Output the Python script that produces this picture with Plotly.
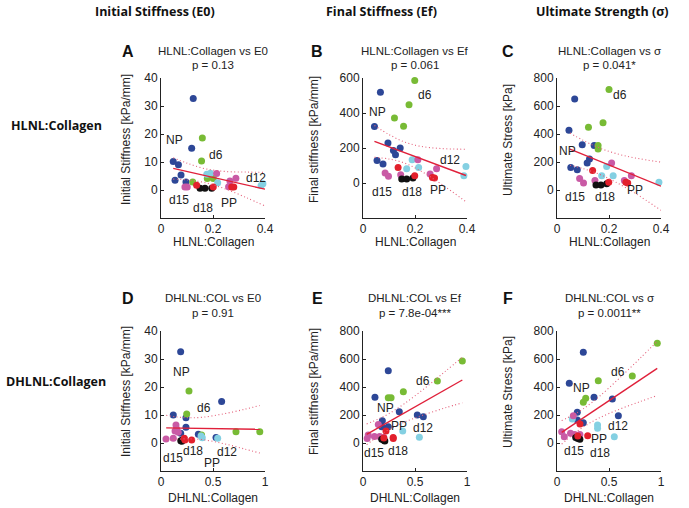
import plotly.graph_objects as go

# ---------------- data ----------------
GROUPS = ["NP", "d6", "d12", "d15", "d18", "PP"]
COLORS = {"NP": "#2d4797", "d6": "#78bb35", "d12": "#84d0e2",
          "d15": "#c95aa5", "d18": "#111111", "PP": "#e2202c"}

# Panel A: HLNL:Collagen vs E0
A_x = [0.124, 0.118, 0.047, 0.067, 0.077, 0.054, 0.096,
       0.159, 0.156, 0.122, 0.178, 0.201,
       0.176, 0.190, 0.218, 0.392, 0.385,
       0.092, 0.101, 0.214, 0.265, 0.288, 0.260,
       0.150, 0.169, 0.195,
       0.137, 0.201, 0.272, 0.280]
A_y = [32.7, 14.9, 10.2, 9.0, 5.4, 3.5, 2.9,
       18.6, 10.4, 2.9, 4.1, 4.1,
       5.6, 6.0, 2.6, 2.2, 1.6,
       1.1, 1.1, 5.9, 3.2, 4.2, 1.2,
       0.6, 0.6, 0.6,
       1.7, 1.1, 1.1, 1.1]
A_g = ["NP"] * 7 + ["d6"] * 5 + ["d12"] * 5 + ["d15"] * 6 + ["d18"] * 3 + ["PP"] * 4

# Panel B: HLNL:Collagen vs Ef
B_x = [0.067, 0.044, 0.096, 0.117, 0.125, 0.143, 0.054, 0.077,
       0.199, 0.177, 0.121, 0.156,
       0.189, 0.168, 0.214, 0.396, 0.388,
       0.211, 0.283, 0.085, 0.098, 0.145, 0.258,
       0.149, 0.168, 0.192,
       0.135, 0.199, 0.267, 0.275]
B_y = [518, 323, 229, 186, 162, 200, 129, 108,
       586, 447, 371, 324,
       133, 82, 89, 95, 42,
       133, 82, 57, 38, 47, 51,
       23, 23, 28,
       89, 42, 32, 28]
B_g = ["NP"] * 8 + ["d6"] * 4 + ["d12"] * 5 + ["d15"] * 6 + ["d18"] * 3 + ["PP"] * 4

# Panel C: HLNL:Collagen vs sigma
C_x = [0.068, 0.046, 0.097, 0.143, 0.125, 0.116, 0.053, 0.078,
       0.200, 0.177, 0.121, 0.158, 0.158,
       0.191, 0.172, 0.216, 0.401, 0.392,
       0.210, 0.286, 0.087, 0.102, 0.146, 0.259,
       0.150, 0.169, 0.191,
       0.137, 0.199, 0.265, 0.272]
C_y = [650, 427, 324, 317, 221, 192, 161, 144,
       718, 481, 449, 317, 293,
       168, 101, 101, 127, 55,
       192, 101, 82, 50, 67, 67,
       35, 35, 45,
       139, 55, 55, 50]
C_g = ["NP"] * 8 + ["d6"] * 5 + ["d12"] * 5 + ["d15"] * 6 + ["d18"] * 3 + ["PP"] * 4

# Panel D: DHLNL:Collagen vs E0
D_x = [0.189, 0.583, 0.118, 0.240, 0.240, 0.189, 0.359, 0.529,
       0.269, 0.247, 0.721, 0.390, 0.950,
       0.385, 0.397, 0.545,
       0.048, 0.118, 0.144, 0.150, 0.135, 0.166,
       0.190, 0.205, 0.200,
       0.224, 0.295, 0.230]
D_y = [32.6, 14.8, 10.0, 9.0, 5.6, 3.5, 3.1, 2.0,
       18.6, 10.4, 4.0, 2.9, 4.0,
       2.5, 1.9, 1.7,
       1.4, 1.7, 6.4, 5.0, 4.3, 3.8,
       0.8, 1.0, 0.6,
       1.7, 1.1, 1.1]
D_g = ["NP"] * 8 + ["d6"] * 5 + ["d12"] * 3 + ["d15"] * 6 + ["d18"] * 3 + ["PP"] * 3

# Panel E: DHLNL:Collagen vs Ef
E_x = [0.243, 0.115, 0.349, 0.522, 0.580, 0.186, 0.243, 0.180,
       0.955, 0.715, 0.388, 0.243, 0.270,
       0.382, 0.542,
       0.147, 0.050, 0.040, 0.110, 0.160, 0.200,
       0.180, 0.210, 0.200,
       0.221, 0.291, 0.290, 0.200]
E_y = [516, 326, 224, 200, 188, 159, 116, 116,
       586, 443, 366, 324, 324,
       86, 41,
       133, 57, 33, 47, 47, 40,
       26, 14, 20,
       86, 33, 40, 36]
E_g = ["NP"] * 8 + ["d6"] * 5 + ["d12"] * 2 + ["d15"] * 6 + ["d18"] * 3 + ["PP"] * 4

# Panel F: DHLNL:Collagen vs sigma
F_x = [0.253, 0.118, 0.356, 0.532, 0.590, 0.195, 0.195, 0.253,
       0.964, 0.724, 0.397, 0.276, 0.253,
       0.147, 0.390, 0.390, 0.551,
       0.157, 0.045, 0.070, 0.130, 0.170, 0.220,
       0.180, 0.200, 0.220,
       0.221, 0.295, 0.200]
F_y = [648, 426, 326, 314, 195, 219, 164, 145,
       712, 478, 445, 319, 291,
       171, 128, 105, 45,
       195, 81, 45, 70, 60, 60,
       40, 33, 26,
       136, 52, 50]
F_g = ["NP"] * 8 + ["d6"] * 5 + ["d12"] * 4 + ["d15"] * 6 + ["d18"] * 3 + ["PP"] * 3

# regression lines (end points) and confidence bands
A_fit_x = [0.047, 0.40]; A_fit_y = [7.7, 0.3]
A_ci_x = [0.047, 0.10, 0.17, 0.25, 0.33, 0.40]
A_ci_hi = [11.5, 9.6, 7.6, 6.6, 6.4, 6.3]
A_ci_lo = [3.9, 3.6, 2.6, 0.3, -2.8, -5.7]

B_fit_x = [0.044, 0.396]; B_fit_y = [238, 43]
B_ci_x = [0.044, 0.10, 0.16, 0.22, 0.30, 0.396]
B_ci_hi = [329, 277, 234, 210, 197, 193]
B_ci_lo = [147, 137, 114, 70, -5, -107]

C_fit_x = [0.05, 0.40]; C_fit_y = [292, 27]
C_ci_x = [0.05, 0.10, 0.16, 0.22, 0.30, 0.40]
C_ci_hi = [407, 355, 303, 264, 229, 199]
C_ci_lo = [177, 153, 115, 62, -23, -145]

D_fit_x = [0.05, 0.95]; D_fit_y = [5.4, 4.9]
D_ci_x = [0.05, 0.15, 0.27, 0.40, 0.60, 0.80, 0.95]
D_ci_hi = [9.9, 9.3, 9.0, 9.2, 10.4, 12.0, 13.4]
D_ci_lo = [0.9, 1.3, 1.5, 1.2, -0.2, -2.1, -3.6]

E_fit_x = [0.035, 0.955]; E_fit_y = [62, 450]
E_ci_x = [0.035, 0.15, 0.25, 0.40, 0.60, 0.80, 0.955]
E_ci_hi = [136, 172, 210, 282, 395, 517, 613]
E_ci_lo = [-12, 50, 96, 150, 205, 253, 287]

F_fit_x = [0.045, 0.964]; F_fit_y = [76, 533]
F_ci_x = [0.045, 0.15, 0.25, 0.40, 0.60, 0.80, 0.964]
F_ci_hi = [160, 198, 243, 328, 463, 606, 727]
F_ci_lo = [-8, 58, 113, 177, 241, 296, 339]

# group text labels inside each panel: (label, x, y)
A_labels = [("NP", 0.05, 17.9), ("d6", 0.21, 12.5), ("d12", 0.365, 4.2),
            ("d15", 0.07, -3.4), ("d18", 0.163, -6.4), ("PP", 0.263, -4.6)]
B_labels = [("NP", 0.056, 403), ("d6", 0.237, 505), ("d12", 0.335, 133),
            ("d15", 0.074, -54), ("d18", 0.187, -54), ("PP", 0.29, -38)]
C_labels = [("NP", 0.04, 278), ("d6", 0.244, 680), ("d12", 0.455, 112),
            ("d15", 0.07, -48), ("d18", 0.185, -53), ("PP", 0.30, 2)]
D_labels = [("NP", 0.199, 25.5), ("d6", 0.413, 12.6), ("d12", 0.638, -3.1),
            ("d15", 0.118, -5.5), ("d18", 0.311, -2.7), ("PP", 0.487, -7.0)]
E_labels = [("NP", 0.221, 252), ("d6", 0.58, 445), ("d12", 0.574, 105),
            ("d15", 0.106, -69), ("d18", 0.34, -55), ("PP", 0.349, 124)]
F_labels = [("NP", 0.231, 390), ("d6", 0.583, 505), ("d12", 0.59, 124),
            ("d15", 0.163, -57), ("d18", 0.413, -74), ("PP", 0.404, 29)]

TITLES = {"A": ("HLNL:Collagen vs E0", "p = 0.13"),
          "B": ("HLNL:Collagen vs Ef", "p = 0.061"),
          "C": ("HLNL:Collagen vs σ", "p = 0.041*"),
          "D": ("DHLNL:COL vs E0", "p = 0.91"),
          "E": ("DHLNL:COL vs Ef", "p = 7.8e-04***"),
          "F": ("DHLNL:COL vs σ", "p = 0.0011**")}
Y_TITLES = {"A": "Initial Stiffness [kPa/mm]", "B": "Final stiffness [kPa/mm]",
            "C": "Ultimate Stress [kPa]", "D": "Initial Stiffness [kPa/mm]",
            "E": "Final stiffness [kPa/mm]", "F": "Ultimate Stress [kPa]"}
X_TITLES = {"A": "HLNL:Collagen", "B": "HLNL:Collagen", "C": "HLNL:Collagen",
            "D": "DHLNL:Collagen", "E": "DHLNL:Collagen", "F": "DHLNL:Collagen"}
Y_RANGES = {"A": [-10, 40], "B": [-200, 600], "C": [-200, 800],
            "D": [-10, 40], "E": [-200, 800], "F": [-200, 800]}
Y_TICKS = {"A": [0, 10, 20, 30, 40], "B": [0, 200, 400, 600],
           "C": [0, 200, 400, 600, 800], "D": [0, 10, 20, 30, 40],
           "E": [0, 200, 400, 600, 800], "F": [0, 200, 400, 600, 800]}
X_RANGES = {"A": [0, 0.4], "B": [0, 0.4], "C": [0, 0.4],
            "D": [0, 1], "E": [0, 1], "F": [0, 1]}
X_TICKS = {"A": [0, 0.2, 0.4], "B": [0, 0.2, 0.4], "C": [0, 0.2, 0.4],
           "D": [0, 0.5, 1], "E": [0, 0.5, 1], "F": [0, 0.5, 1]}
COL_HEADERS = ["Initial Stiffness (E0)", "Final Stiffness (Ef)", "Ultimate Strength (σ)"]
ROW_HEADERS = ["HLNL:Collagen", "DHLNL:Collagen"]

DATA = {"A": (A_x, A_y, A_g, A_fit_x, A_fit_y, A_ci_x, A_ci_hi, A_ci_lo, A_labels),
        "B": (B_x, B_y, B_g, B_fit_x, B_fit_y, B_ci_x, B_ci_hi, B_ci_lo, B_labels),
        "C": (C_x, C_y, C_g, C_fit_x, C_fit_y, C_ci_x, C_ci_hi, C_ci_lo, C_labels),
        "D": (D_x, D_y, D_g, D_fit_x, D_fit_y, D_ci_x, D_ci_hi, D_ci_lo, D_labels),
        "E": (E_x, E_y, E_g, E_fit_x, E_fit_y, E_ci_x, E_ci_hi, E_ci_lo, E_labels),
        "F": (F_x, F_y, F_g, F_fit_x, F_fit_y, F_ci_x, F_ci_hi, F_ci_lo, F_labels)}

# ---------------- layout geometry (page pixels) ----------------
W, H = 689, 508
COL_X = [161, 363, 557]       # left edge of each plot area
PW = 104                      # plot width
ROW_Y = [78, 331]             # top of each plot area
PH = 140                      # plot height
YT_X = [126, 314, 508]        # centre x of the rotated y titles
YT_Y = [140, 392]             # centre y of the rotated y titles
XT_Y = [242, 498]             # centre y of the x titles


def px_x(X):
    return X / W


def px_y(Y):
    return 1 - Y / H


FONT = "Liberation Sans, Arial, Helvetica, sans-serif"
BOLD_FONT = "Open Sans, Lato, sans-serif"
TXT = "#222222"

fig = go.Figure()
layout = dict(width=W, height=H, margin=dict(l=0, r=0, t=0, b=0, autoexpand=False),
              paper_bgcolor="white", plot_bgcolor="white", showlegend=False,
              font=dict(family=FONT, size=12, color=TXT))
annotations = []


def paper_text(text, X, Y, size, family=FONT, angle=0, color=TXT, anchor="center"):
    annotations.append(dict(text=text, x=px_x(X), y=px_y(Y), xref="paper", yref="paper",
                            showarrow=False, xanchor=anchor, yanchor="middle",
                            textangle=angle, font=dict(size=size, family=family, color=color)))


for i, key in enumerate("ABCDEF"):
    r, c = divmod(i, 3)
    n = i + 1
    xa = "x" if n == 1 else f"x{n}"
    ya = "y" if n == 1 else f"y{n}"
    xkey = "xaxis" if n == 1 else f"xaxis{n}"
    ykey = "yaxis" if n == 1 else f"yaxis{n}"
    x0 = COL_X[c]; y0 = ROW_Y[r]
    layout[xkey] = dict(domain=[px_x(x0), px_x(x0 + PW)], anchor=ya,
                        range=X_RANGES[key], tickvals=X_TICKS[key],
                        ticktext=[("%g" % v) for v in X_TICKS[key]],
                        showline=True, linecolor=TXT, linewidth=1,
                        ticks="inside", ticklen=3, tickcolor=TXT,
                        showgrid=False, zeroline=False, mirror=False, automargin=False,
                        tickfont=dict(size=12, family=FONT, color=TXT))
    layout[ykey] = dict(domain=[px_y(y0 + PH), px_y(y0)], anchor=xa,
                        range=Y_RANGES[key], tickvals=Y_TICKS[key],
                        showline=True, linecolor=TXT, linewidth=1,
                        ticks="inside", ticklen=3, tickcolor=TXT,
                        showgrid=False, zeroline=False, mirror=False, automargin=False,
                        tickfont=dict(size=12, family=FONT, color=TXT))

    xs, ys, gs, fx, fy, cx, chi, clo, labels = DATA[key]
    for g in GROUPS:
        px = [x for x, gg in zip(xs, gs) if gg == g]
        py = [y for y, gg in zip(ys, gs) if gg == g]
        fig.add_trace(go.Scatter(x=px, y=py, mode="markers", xaxis=xa, yaxis=ya,
                                 marker=dict(size=7, color=COLORS[g], line=dict(width=0)),
                                 cliponaxis=False, hoverinfo="skip"))
    for band in (chi, clo):
        fig.add_trace(go.Scatter(x=cx, y=band, mode="lines", xaxis=xa, yaxis=ya,
                                 line=dict(color="#e4607a", width=1.1, dash="1px,2.5px",
                                           shape="spline"),
                                 hoverinfo="skip"))
    fig.add_trace(go.Scatter(x=fx, y=fy, mode="lines", xaxis=xa, yaxis=ya,
                             line=dict(color="#e0203a", width=1.4), hoverinfo="skip"))

    for (t, lx, ly) in labels:
        annotations.append(dict(text=t, x=lx, y=ly, xref=xa, yref=ya, showarrow=False,
                                font=dict(size=12, family=FONT, color=TXT)))

    # axis titles
    paper_text(X_TITLES[key], x0 + PW / 2, XT_Y[r], 12)
    paper_text(Y_TITLES[key], YT_X[c], YT_Y[r], 12, angle=-90)

    # panel titles and letters
    t1, t2 = TITLES[key]
    ty = [51, 65] if r == 0 else [298, 313]
    paper_text(t1, x0 + PW / 2, ty[0], 11.5)
    paper_text(t2, x0 + PW / 2, ty[1], 11.5)
    paper_text("<b>%s</b>" % key, [128, 317, 508][c], ty[0], 16, color="#111111")

for j, t in enumerate(COL_HEADERS):
    paper_text("<b>%s</b>" % t, [155, 381, 602][j], 12, 12.5, family=BOLD_FONT,
               color="#111111")
for j, t in enumerate(ROW_HEADERS):
    paper_text("<b>%s</b>" % t, [104, 108][j], [125, 381][j], 12.5, family=BOLD_FONT,
               color="#111111", anchor="right")

layout["annotations"] = annotations
fig.update_layout(**layout)
fig.write_html("out.html", config={"displayModeBar": False},
               post_script="document.body.style.margin='0px';")
